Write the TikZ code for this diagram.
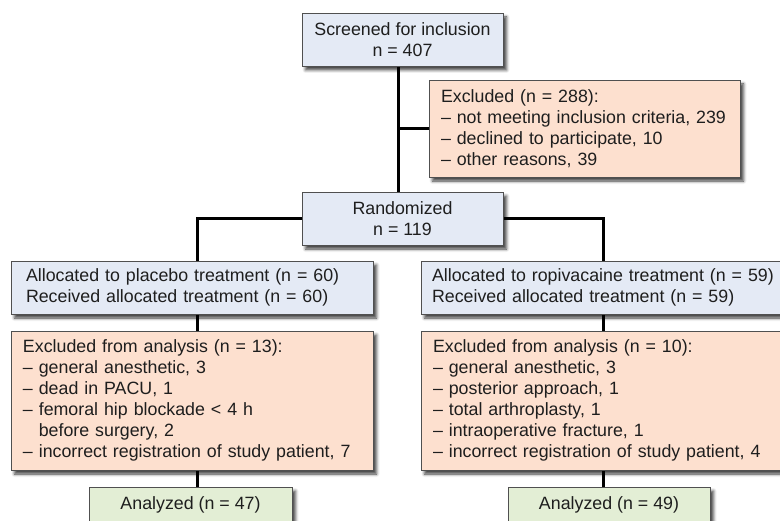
\documentclass[tikz,border=0pt]{standalone}
\usepackage{fontspec}
\setmainfont{Liberation Sans}
\usetikzlibrary{shadows.blur}
\pgfdeclarelayer{bg}
\pgfsetlayers{bg,main}
\definecolor{bluefill}{RGB}{228,234,245}
\definecolor{orangefill}{RGB}{253,224,207}
\definecolor{greenfill}{RGB}{227,238,213}
\definecolor{boxline}{RGB}{80,80,80}
\definecolor{textcol}{RGB}{30,30,30}
\tikzset{
  box/.style={draw=boxline, line width=0.9pt, inner sep=0pt, text=textcol,
    font=\fontsize{17.8}{21}\selectfont,
    blur shadow={shadow xshift=3.5pt, shadow yshift=-4pt, shadow blur radius=3pt, shadow opacity=75}},
  bluebox/.style={box, fill=bluefill},
  orangebox/.style={box, fill=orangefill},
  greenbox/.style={box, fill=greenfill},
  conn/.style={line width=3pt, black}
}
\begin{document}
\begin{tikzpicture}[x=1pt,y=-1pt]
\useasboundingbox (0,0) rectangle (780,521);
\node[bluebox, minimum width=201pt, minimum height=53pt, align=center] (screen) at (402.5,39.5) {Screened for inclusion\\n = 407};
\node[orangebox, minimum height=97pt, text width=287pt, align=left, inner xsep=12pt] (excl) at (584.5,128.5)
  {Excluded (n = 288):\\– not meeting inclusion criteria, 239\\– declined to participate, 10\\– other reasons, 39};
\node[bluebox, minimum width=201pt, minimum height=53pt, align=center] (rand) at (402.5,218.5) {Randomized\\n = 119};
\node[bluebox, minimum height=53pt, text width=332pt, align=left, inner xsep=15pt] (plac) at (192,287.5)
  {Allocated to placebo treatment (n = 60)\\Received allocated treatment (n = 60)};
\node[bluebox, minimum height=53pt, text width=343pt, align=left, inner xsep=11pt] (ropi) at (603.5,287.5)
  {Allocated to ropivacaine treatment (n = 59)\\Received allocated treatment (n = 59)};
\node[orangebox, minimum height=139pt, text width=338pt, align=left, inner xsep=12pt] (exL) at (192,400.5)
  {Excluded from analysis (n = 13):\\– general anesthetic, 3\\– dead in PACU, 1\\– femoral hip blockade < 4 h\\\phantom{– }before surgery, 2\\– incorrect registration of study patient, 7};
\node[orangebox, minimum height=139pt, text width=341pt, align=left, inner xsep=12pt] (exR) at (603.5,400.5)
  {Excluded from analysis (n = 10):\\– general anesthetic, 3\\– posterior approach, 1\\– total arthroplasty, 1\\– intraoperative fracture, 1\\– incorrect registration of study patient, 4};
\node[greenbox, minimum width=203pt, minimum height=36pt] (anL) at (190.5,505) {Analyzed (n = 47)};
\node[greenbox, minimum width=202pt, minimum height=36pt] (anR) at (609,505) {Analyzed (n = 49)};
\coordinate (xL) at (197,0);
\coordinate (xR) at (603,0);
\coordinate (xM) at (398,0);
\begin{pgfonlayer}{bg}
\draw[conn] (xM |- screen.south) -- (xM |- rand.north);
\draw[conn] (xM |- excl.west) -- (excl.west);
\draw[conn] (rand.west) -| (xL |- plac.north);
\draw[conn] (rand.east) -| (xR |- ropi.north);
\draw[conn] (xL |- plac.south) -- (xL |- exL.north);
\draw[conn] (xL |- exL.south) -- (xL |- anL.north);
\draw[conn] (xR |- ropi.south) -- (xR |- exR.north);
\draw[conn] (xR |- exR.south) -- (xR |- anR.north);
\end{pgfonlayer}
\end{tikzpicture}
\end{document}
